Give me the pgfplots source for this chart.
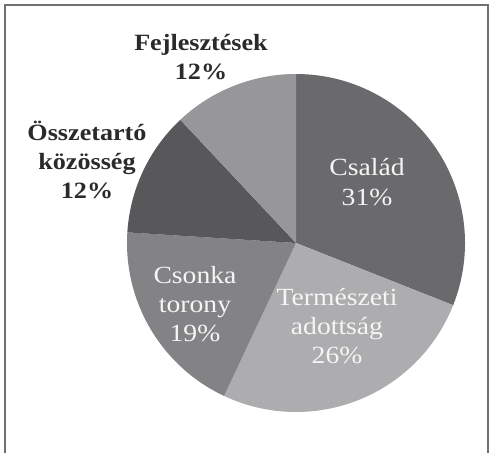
\documentclass[border=0pt]{standalone}
\usepackage{fontspec}
\setmainfont{Liberation Serif}[FakeStretch=1.12]
\usepackage{pgfplots}
\pgfplotsset{compat=1.18}
\definecolor{cA}{HTML}{6A6A6C}
\definecolor{cB}{HTML}{ADADAF}
\definecolor{cC}{HTML}{838386}
\definecolor{cD}{HTML}{58585A}
\definecolor{cE}{HTML}{97979A}
\definecolor{frame}{HTML}{707070}
\definecolor{txt}{HTML}{2A2A2A}
\begin{document}
\begin{tikzpicture}
% values (percent), clockwise from top
\def\vA{31}\def\vB{26}\def\vC{19}\def\vD{12}\def\vE{12}
\pgfmathsetmacro\sA{90}
\pgfmathsetmacro\sB{\sA-\vA*3.6}
\pgfmathsetmacro\sC{\sB-\vB*3.6}
\pgfmathsetmacro\sD{\sC-\vC*3.6}
\pgfmathsetmacro\sE{\sD-\vD*3.6}
\pgfmathsetmacro\sF{\sE-\vE*3.6}
\def\cx{296}\def\cy{208}\def\r{169}
\begin{axis}[x=0.75pt,y=0.75pt,xmin=0,xmax=491,ymin=0,ymax=451,
  hide axis,scale only axis,clip=false,at={(0,0)},anchor=south west]
\path (axis cs:0,0) rectangle (axis cs:491,451);
\addplot[fill=cA,draw=none,domain=\sB:\sA,samples=120] ({\cx+\r*cos(x)},{\cy+\r*sin(x)}) -- (axis cs:\cx,\cy) -- cycle;
\addplot[fill=cB,draw=none,domain=\sC:\sB,samples=120] ({\cx+\r*cos(x)},{\cy+\r*sin(x)}) -- (axis cs:\cx,\cy) -- cycle;
\addplot[fill=cC,draw=none,domain=\sD:\sC,samples=120] ({\cx+\r*cos(x)},{\cy+\r*sin(x)}) -- (axis cs:\cx,\cy) -- cycle;
\addplot[fill=cD,draw=none,domain=\sE:\sD,samples=120] ({\cx+\r*cos(x)},{\cy+\r*sin(x)}) -- (axis cs:\cx,\cy) -- cycle;
\addplot[fill=cE,draw=none,domain=\sF:\sE,samples=120] ({\cx+\r*cos(x)},{\cy+\r*sin(x)}) -- (axis cs:\cx,\cy) -- cycle;
\draw[frame,line width=1.5pt] (axis cs:5,-2) -- (axis cs:5,446) -- (axis cs:488,446) -- (axis cs:488,-2);
\tikzset{lab/.style={align=center,inner sep=0pt,font=\fontsize{18.5}{22}\selectfont}}
\node[lab,text=white!96!black] at (axis cs:367,269) {Család\\31\%};
\node[lab,text=white!96!black] at (axis cs:337,125) {Természeti\\adottság\\26\%};
\node[lab,text=white!96!black] at (axis cs:195,147) {Csonka\\torony\\19\%};
\node[lab,text=txt,font=\bfseries\fontsize{17.5}{21.75}\selectfont] at (axis cs:87,291) {Összetartó\\közösség\\12\%};
\node[lab,text=txt,font=\bfseries\fontsize{17.5}{21.75}\selectfont] at (axis cs:201,394) {Fejlesztések\\12\%};
\end{axis}
\end{tikzpicture}
\end{document}
